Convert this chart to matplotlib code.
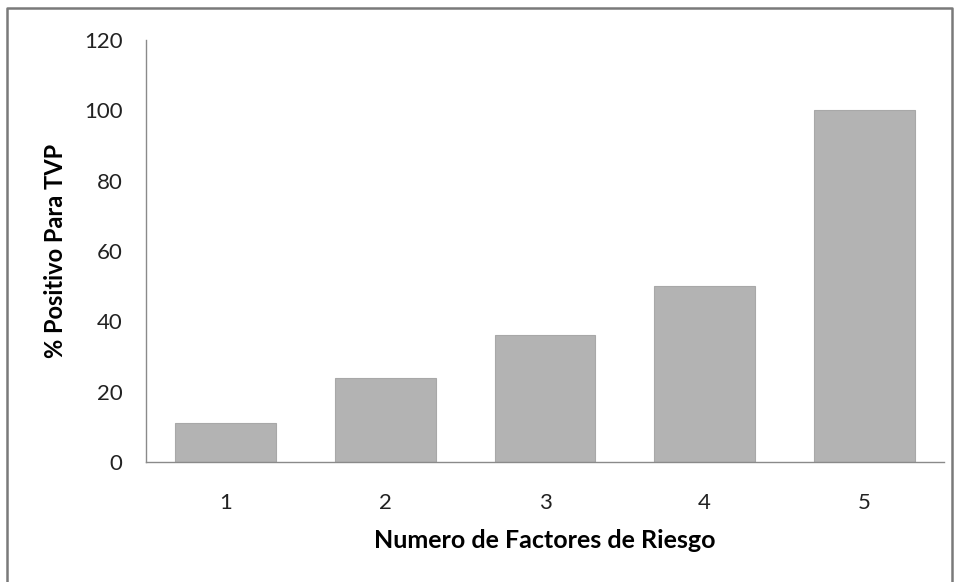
import numpy as np
import matplotlib.pyplot as plt
from matplotlib.lines import Line2D

# numero de factores de riesgo vs % positivo para TVP
factores = ['1', '2', '3', '4', '5']
positivo = [11, 24, 36, 50, 100]

plt.rcParams['font.family'] = ['Lato', 'DejaVu Sans']

fig = plt.figure(figsize=(9.59, 5.82), dpi=100)
ax = fig.add_axes([0.1522, 0.2062, 0.8322, 0.7251])

x = np.arange(len(factores))
ax.bar(x, positivo, width=0.63, color='#b3b3b3', edgecolor='#a8a8a8', linewidth=0.8)

ax.set_xlim(-0.5, len(factores) - 0.5)
ax.set_ylim(0, 120)
ax.set_yticks(np.arange(0, 121, 20))
ax.set_xticks(x)
ax.set_xticklabels(factores)
ax.tick_params(axis='both', length=0, labelsize=16, colors='#222222')
ax.tick_params(axis='y', pad=17)
ax.tick_params(axis='x', pad=22)

for s in ['top', 'right']:
    ax.spines[s].set_visible(False)
for s in ['left', 'bottom']:
    ax.spines[s].set_color('#8a8a8a')
    ax.spines[s].set_linewidth(1.0)

ax.set_ylabel('% Positivo Para TVP', fontsize=17, fontweight='bold', labelpad=12)
ax.set_xlabel('Numero de Factores de Riesgo', fontsize=18, fontweight='bold', labelpad=12)

# marco exterior (sin linea inferior)
fx = [7 / 959, 7 / 959, 952 / 959, 952 / 959]
fy = [0.0, 1 - 8 / 582, 1 - 8 / 582, 0.0]
fig.add_artist(Line2D(fx, fy, transform=fig.transFigure, color='#7a7a7a', linewidth=1.8))

fig.savefig('out.png', dpi=100)
